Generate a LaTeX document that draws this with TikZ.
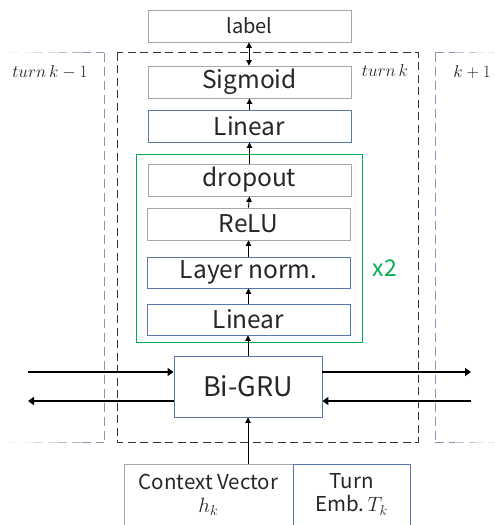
\documentclass[tikz,border=0pt]{standalone}
\usepackage{fontspec}
\setmainfont{Noto Sans CJK JP}
\usetikzlibrary{arrows.meta}
\definecolor{boxgray}{HTML}{A6A6A6}
\definecolor{boxblue}{HTML}{5A78B0}
\definecolor{grpgreen}{HTML}{00B050}
\definecolor{turngray}{HTML}{8496B0}
\definecolor{txt}{HTML}{262626}
\tikzset{
  layer/.style={draw, line width=0.9pt, minimum width=203pt, minimum height=32pt,
    inner sep=0pt, text=txt, font=\fontsize{24.5}{24.5}\selectfont},
  graybox/.style={layer, draw=boxgray},
  bluebox/.style={layer, draw=boxblue},
  inputbox/.style={minimum height=61pt, align=center,
    font=\fontsize{20.5}{23}\selectfont},
  flow/.style={-{Triangle[width=5.5pt,length=5.5pt]}, line width=0.9pt, black},
  state/.style={-{Triangle[width=8pt,length=6pt]}, line width=2.2pt, black},
  turnline/.style={draw=turngray, line width=0.9pt, dash pattern=on 9pt off 5pt},
  turntext/.style={text=txt, font=\fontsize{17}{17}\selectfont},
}
\begin{document}
\begin{tikzpicture}[x=1pt,y=-1pt]
\useasboundingbox (0,0) rectangle (495,525);

% neighbouring turns, their open edges fading out
\foreach \y in {52.5,442}{
  \foreach \a/\b/\o in {10/34/0.12, 34/58/0.35, 58/82/0.65, 82/104/1}{
    \draw[turnline, opacity=\o] (\a,\y) -- (\b,\y);
  }
  \foreach \a/\b/\o in {435/455/1, 455/475/0.55, 475/495/0.2}{
    \draw[turnline, opacity=\o] (\a,\y) -- (\b,\y);
  }
}
\draw[turnline] (104,52.5) -- (104,442);
\draw[turnline] (435,52.5) -- (435,442);

% current turn
\draw[line width=0.9pt, draw=black!80, dash pattern=on 8pt off 4.5pt] (117,52.5) rectangle (418,442);

\node[turntext] (tkm) at (50,72) {$turn\,k-1$};
\node[turntext] (tk) at (385,70) {$turn\,k$};
\node[turntext] (tkp) at (472,72) {$k+1$};

% repeated block
\draw[grpgreen, line width=0.9pt] (136,154) rectangle (362,342);
\node[text=grpgreen, font=\fontsize{23}{23}\selectfont] (rep) at (385,268) {x2};

% layers
\node[graybox, font=\fontsize{20}{20}\selectfont] (label) at (249.5,26) {label};
\node[graybox] (sig) at (249.5,82) {Sigmoid};
\node[bluebox] (lin2) at (249.5,126) {Linear};
\node[graybox] (drop) at (249.5,180) {dropout};
\node[graybox] (relu) at (248.5,224) {ReLU};
\node[bluebox, minimum height=31pt] (ln) at (248.5,272.5) {Layer norm.};
\node[bluebox, minimum height=31pt] (lin1) at (248.5,319.5) {Linear};
\node[bluebox, minimum width=148pt, minimum height=61pt, font=\fontsize{27}{27}\selectfont] (gru) at (248,386.5) {Bi-GRU};

% inputs
\node[graybox, inputbox, minimum width=169pt] (ctx) at (208.5,494.5) {Context Vector\\$h_k$};
\node[bluebox, inputbox, minimum width=117pt] (temb) at (351.5,494.5) {Turn\\Emb.\,$T_k$};

% vertical flow
\draw[flow] (gru.south |- ctx.north) -- (gru.south);
\draw[flow] (gru.north) -- (lin1.south -| gru.north);
\draw[flow] (lin1.north) -- (ln.south);
\draw[flow] (ln.north) -- (relu.south);
\draw[flow] (relu.north) -- (drop.south);
\draw[flow] (drop.north) -- (lin2.south);
\draw[flow] (lin2.north) -- (sig.south);
\draw[{Triangle[width=5.5pt,length=5.5pt]}-{Triangle[width=5.5pt,length=5.5pt]}, line width=0.9pt]
  (label.south -| 249,0) -- (sig.north -| 249,0);

% recurrent states
\coordinate (inL) at (28,372);
\coordinate (outL) at (28,401);
\coordinate (outR) at (471,372);
\coordinate (inR) at (471,401);
\draw[state] (inL) -- (gru.west |- inL);
\draw[state] (gru.west |- outL) -- (outL);
\draw[state] (gru.east |- outR) -- (outR);
\draw[state] (inR) -- (gru.east |- inR);
\end{tikzpicture}
\end{document}
